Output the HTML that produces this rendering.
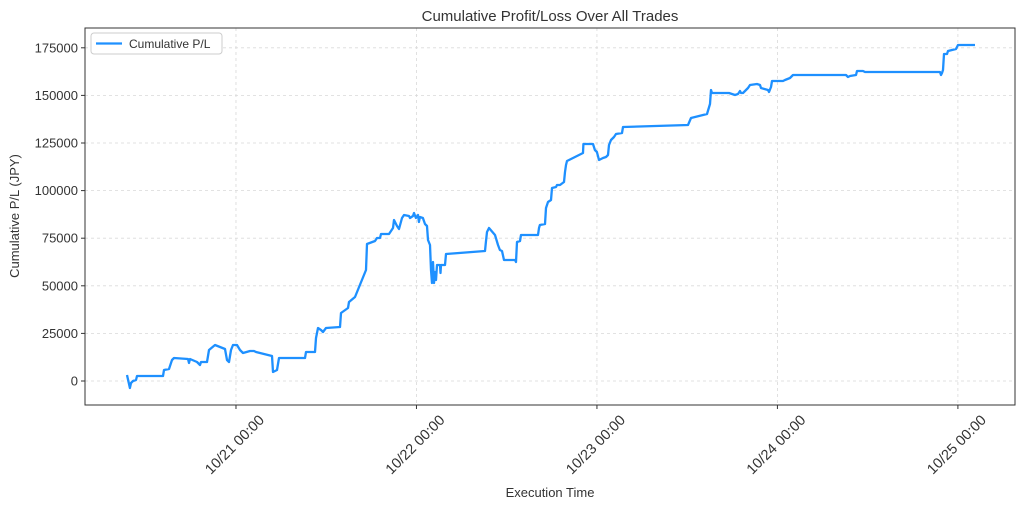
<!DOCTYPE html>
<html><head><meta charset="utf-8"><style>
body{margin:0;background:#fff}
svg{display:block;font-family:"Liberation Sans","DejaVu Sans",sans-serif}
</style></head><body>
<svg id="chart" width="1024" height="508" viewBox="0 0 1024 508" xmlns="http://www.w3.org/2000/svg">
<rect width="1024" height="508" fill="#fff"/>
<text x="550" y="21" text-anchor="middle" font-size="15" fill="#333">Cumulative Profit/Loss Over All Trades</text>
<g id="grid"></g>
<g id="yticks"></g>
<g id="xticks"></g>
<path id="line" fill="none" stroke="#1e90ff" stroke-width="2.3" stroke-linejoin="round"/>
<rect x="85" y="28" width="930" height="377" fill="none" stroke="#333" stroke-width="1"/>
<g>
<rect x="91" y="33" width="131" height="21" rx="3" fill="#fff" stroke="#ccc"/>
<line x1="96" y1="43.5" x2="122" y2="43.5" stroke="#1e90ff" stroke-width="2.3"/>
<text x="129" y="48" font-size="12" fill="#333">Cumulative P/L</text>
</g>
<text x="550" y="497" text-anchor="middle" font-size="13" fill="#333">Execution Time</text>
<text transform="translate(19,216) rotate(-90)" text-anchor="middle" font-size="13" fill="#333">Cumulative P/L (JPY)</text>
</svg>
<script>
const hours=[9.51,9.9,10.04,10.31,10.7,10.84,14.3,14.43,15.09,15.49,15.76,17.62,17.75,17.89,18.82,19.22,19.35,20.15,20.41,21.21,22.54,22.81,23.07,23.34,23.6,24.14,24.53,24.93,25.86,26.4,26.66,28.79,28.92,29.45,29.72,33.18,33.31,34.51,34.64,34.91,35.3,35.57,35.97,37.83,37.97,38.9,39.03,39.83,41.29,41.42,42.49,42.75,43.15,43.28,44.35,44.88,45.01,45.41,45.68,46.08,46.34,47.01,47.14,47.54,47.67,47.93,48.2,48.33,48.46,48.86,49.14,49.4,49.53,49.8,49.93,50.07,50.2,50.33,50.47,50.6,50.73,51.13,51.2,51.26,51.8,51.93,57.11,57.24,57.38,57.64,58.44,58.84,59.1,59.37,59.64,61.1,61.24,61.37,61.77,61.9,64.16,64.29,64.42,65.09,65.22,65.49,65.89,66.02,66.56,66.69,67.09,67.62,67.75,67.89,68.02,70.15,70.2,71.47,71.73,72.0,72.27,72.8,73.2,73.47,73.6,73.87,74.27,74.53,75.33,75.46,84.11,84.51,86.64,87.03,87.17,87.3,89.56,90.36,90.76,91.02,91.16,91.42,91.69,92.09,92.35,93.28,93.68,93.82,94.75,94.88,95.15,95.28,96.74,97.01,97.67,98.07,105.12,105.39,105.65,106.45,106.58,107.38,107.65,117.62,117.75,117.89,118.02,118.15,118.55,118.68,119.75,120.01,122.27];
const pl=[3150,-3680,-1050,0,525,2630,2630,5780,6300,11030,12080,11550,9450,11550,9980,8400,9980,9980,16280,18900,16800,11030,9980,16280,18900,18900,16280,14700,15760,15760,15230,13130,4730,5780,12080,12080,15230,15230,22580,27840,26790,25730,27840,28360,35710,38340,41490,44120,58300,71950,73530,75100,75100,77200,77200,80360,84560,81410,79830,85610,87180,86660,85610,86660,88230,85610,87180,83510,86130,85610,82460,81410,74050,71430,58300,51470,62500,51470,57250,53050,60920,60920,56720,60920,60920,66700,68280,73000,78250,80360,76680,71430,68800,68280,63550,63550,62500,73000,73530,76680,76680,80360,81930,82460,90860,94010,95060,101360,101890,102940,102940,104510,109760,113440,115540,119750,124470,124470,121320,120270,116070,117120,117640,118700,123950,126570,128150,129720,130250,133400,134450,138130,140230,145480,152830,151260,151260,150210,150740,152310,151260,151260,152310,153880,155460,155980,155460,153880,152830,151780,154410,157560,157560,158090,159140,160710,160710,159660,160190,160710,162810,162810,162290,162290,160710,161760,163340,171740,171740,173320,174370,176470,176470];
const yTicks=[0,25000,50000,75000,100000,125000,150000,175000];
const xTickHours=[24,48,72,96,120];
const xTickLabels=["10/21 00:00","10/22 00:00","10/23 00:00","10/24 00:00","10/25 00:00"];
const X=h=>55.5+7.52*h;
const Y=v=>381-v/525.2;
const NS="http://www.w3.org/2000/svg";
const grid=document.getElementById('grid'),yt=document.getElementById('yticks'),xt=document.getElementById('xticks');
function mk(t,a){const e=document.createElementNS(NS,t);for(const k in a)e.setAttribute(k,a[k]);return e;}
yTicks.forEach(v=>{const y=Y(v);
const g=mk('line',{x1:85,x2:1015,y1:y,y2:y,stroke:'#d9d9d9','stroke-dasharray':'3,3','stroke-width':0.8});


grid.appendChild(g);
const tk=mk('line',{x1:81,x2:85,y1:y,y2:y,stroke:'#333'});


yt.appendChild(tk);
const t=mk('text',{x:78,y:y+4.5,'text-anchor':'end','font-size':13,fill:'#333'});


t.textContent=v;yt.appendChild(t);});
xTickHours.forEach((h,i)=>{const x=X(h);
const g=mk('line',{x1:x,x2:x,y1:28,y2:405,stroke:'#d9d9d9','stroke-dasharray':'3,3','stroke-width':0.8});


grid.appendChild(g);
const tk=mk('line',{x1:x,x2:x,y1:405,y2:409,stroke:'#333'});


xt.appendChild(tk);
const t=mk('text',{transform:`translate(${x+2},${448}) rotate(-45)`,'text-anchor':'middle','font-size':14.5,fill:'#333'});


t.textContent=xTickLabels[i];xt.appendChild(t);});
document.getElementById('line').setAttribute('d',hours.map((h,i)=>(i?'L':'M')+X(h).toFixed(1)+','+Y(pl[i]).toFixed(1)).join(''));
</script>
</body></html>
